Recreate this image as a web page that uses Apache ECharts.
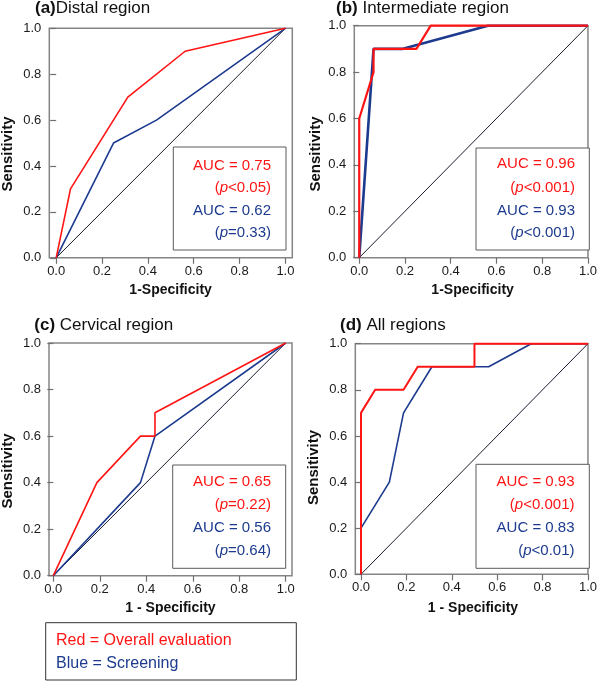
<!DOCTYPE html>
<html>
<head>
<meta charset="utf-8">
<script src="https://cdn.jsdelivr.net/npm/echarts@6/dist/echarts.min.js"></script>
<style>
html,body{margin:0;padding:0;background:#fff;}
#chart{width:600px;height:681px;}
</style>
</head>
<body>
<div id="chart"></div>
<script>
// ---- Data ----
const tickValues = [0, 0.2, 0.4, 0.6, 0.8, 1.0];
const tickLabels = ['0.0', '0.2', '0.4', '0.6', '0.8', '1.0'];

const panelTags = ['(a)', '(b)', '(c)', '(d)'];
const panelNames = ['Distal region', ' Intermediate region', ' Cervical region', ' All regions'];
const xTitles = ['1-Specificity', '1-Specificity', '1 - Specificity', '1 - Specificity'];

// Overall evaluation (red)
const distalOverallX = [0, 0.0625, 0.3125, 0.5625, 1];
const distalOverallY = [0, 0.3, 0.7, 0.9, 1];
const intermOverallX = [0, 0, 0.0625, 0.0625, 0.25, 0.3125, 1];
const intermOverallY = [0, 0.6, 0.8, 0.9, 0.9, 1, 1];
const cervOverallX = [0, 0.1875, 0.375, 0.4375, 0.4375, 1];
const cervOverallY = [0, 0.4, 0.6, 0.6, 0.7, 1];
const allOverallX = [0, 0, 0.0625, 0.1875, 0.25, 0.5, 0.5, 1];
const allOverallY = [0, 0.7, 0.8, 0.8, 0.9, 0.9, 1, 1];

// Screening (blue)
const distalScreenX = [0, 0.25, 0.4375, 1];
const distalScreenY = [0, 0.5, 0.6, 1];
const intermScreenX = [0, 0.0625, 0.1875, 0.5625, 1];
const intermScreenY = [0, 0.9, 0.9, 1, 1];
const cervScreenX = [0, 0.375, 0.4375, 1];
const cervScreenY = [0, 0.4, 0.6, 1];
const allScreenX = [0, 0, 0.125, 0.1875, 0.3125, 0.5625, 0.75, 1];
const allScreenY = [0, 0.2, 0.4, 0.7, 0.9, 0.9, 1, 1];

// Reference diagonal
const diagX = [0, 1];
const diagY = [0, 1];

// AUC annotations
const aucOverall = ['0.75', '0.96', '0.65', '0.93'];
const pOverall = ['<0.05', '<0.001', '=0.22', '<0.001'];
const aucScreen = ['0.62', '0.93', '0.56', '0.83'];
const pScreen = ['=0.33', '<0.001', '=0.64', '<0.01'];

const legendLines = ['Red = Overall evaluation', 'Blue = Screening'];

// ---- Layout / style ----
const RED = '#ff1414';
const BLUE = '#1c3a8e';
const FONT = '"Liberation Sans", Arial, sans-serif';

const overallX = [distalOverallX, intermOverallX, cervOverallX, allOverallX];
const overallY = [distalOverallY, intermOverallY, cervOverallY, allOverallY];
const screenX = [distalScreenX, intermScreenX, cervScreenX, allScreenX];
const screenY = [distalScreenY, intermScreenY, cervScreenY, allScreenY];

const grids = [
  {left: 49.3, top: 28.3, width: 243, height: 229.5, xmin: -0.03, xmax: 1.03},
  {left: 354.3, top: 25.7, width: 236.7, height: 232, xmin: -0.0216, xmax: 1.0},
  {left: 49, top: 343, width: 243, height: 232.7, xmin: -0.0185, xmax: 1.027},
  {left: 355.3, top: 343.7, width: 235.7, height: 230.6, xmin: -0.025, xmax: 1.0}
];
const lineW = [[1.6, 1.6], [2.2, 2.6], [1.6, 1.6], [2.0, 1.6]];
const titlePos = [[35, 0], [336, 0], [34.3, 316.5], [340, 316.5]];
const yTitlePos = [[8.3, 154], [315.8, 154], [8.3, 471], [314, 467.5]];
const xTitlePos = [[170.6, 290], [472.6, 290], [170.5, 608], [473, 608]];
const boxes = [
  {x: 173.3, y: 147, w: 112.7, h: 103, tx: 271, ly: [165.7, 188.3, 210.7, 233.3]},
  {x: 476, y: 148, w: 113.3, h: 102, tx: 575, ly: [164, 187.7, 210.7, 233.3]},
  {x: 172.7, y: 465, w: 113, h: 103.3, tx: 271, ly: [482.3, 505, 528.3, 550.7]},
  {x: 476, y: 464.3, w: 113.3, h: 104, tx: 574.5, ly: [482.3, 505, 528.3, 550.7]}
];

function pts(xs, ys) { return xs.map((x, i) => [x, ys[i]]); }
function fmt(v) {
  const i = tickValues.findIndex(t => Math.abs(t - v) < 1e-6);
  return i >= 0 ? tickLabels[i] : '';
}

const option = {
  animation: false,
  backgroundColor: '#fff',
  textStyle: {fontFamily: FONT},
  title: [],
  grid: [],
  xAxis: [],
  yAxis: [],
  series: [],
  graphic: []
};

grids.forEach((g, k) => {
  option.grid.push({
    left: g.left, top: g.top, width: g.width, height: g.height,
    show: true, borderColor: '#858585', borderWidth: 1.5, backgroundColor: 'transparent'
  });
  option.xAxis.push({
    type: 'value', gridIndex: k, min: g.xmin, max: g.xmax,
    axisLine: {show: false},
    splitLine: {show: false},
    axisTick: {show: true, length: 6, inside: false, customValues: tickValues,
      lineStyle: {color: '#707070', width: 1.2}},
    axisLabel: {customValues: tickValues, formatter: fmt, margin: 7,
      fontSize: 13, color: '#1a1a1a', fontFamily: FONT}
  });
  option.yAxis.push({
    type: 'value', gridIndex: k, min: 0, max: 1,
    axisLine: {show: false},
    splitLine: {show: false},
    axisTick: {show: true, length: 6, inside: false, customValues: tickValues,
      lineStyle: {color: '#707070', width: 1.2}},
    axisLabel: {customValues: tickValues, formatter: fmt, margin: 8,
      fontSize: 13, color: '#1a1a1a', fontFamily: FONT}
  });
  // diagonal
  option.series.push({
    type: 'line', xAxisIndex: k, yAxisIndex: k, data: pts(diagX, diagY),
    showSymbol: false, silent: true, clip: false,
    lineStyle: {color: '#1a1a2e', width: 1}
  });
  // screening (blue)
  option.series.push({
    type: 'line', xAxisIndex: k, yAxisIndex: k, data: pts(screenX[k], screenY[k]),
    showSymbol: false, clip: false,
    lineStyle: {color: BLUE, width: lineW[k][1]}
  });
  // overall (red)
  option.series.push({
    type: 'line', xAxisIndex: k, yAxisIndex: k, data: pts(overallX[k], overallY[k]),
    showSymbol: false, clip: false,
    lineStyle: {color: RED, width: lineW[k][0]}
  });

  option.title.push({
    text: '{b|' + panelTags[k] + '}{n|' + panelNames[k] + '}',
    left: titlePos[k][0], top: titlePos[k][1], padding: 0,
    textStyle: {
      rich: {
        b: {fontSize: 17, fontWeight: 'bold', color: '#111', fontFamily: FONT, lineHeight: 17},
        n: {fontSize: 17, fontWeight: 'normal', color: '#111', fontFamily: FONT, lineHeight: 17}
      }
    }
  });

  option.graphic.push({
    type: 'text', x: xTitlePos[k][0], y: xTitlePos[k][1],
    style: {text: xTitles[k], fontSize: 14, fontWeight: 'bold', fill: '#111',
      fontFamily: FONT, align: 'center', verticalAlign: 'middle'}
  });
  option.graphic.push({
    type: 'text', x: yTitlePos[k][0], y: yTitlePos[k][1], rotation: Math.PI / 2,
    style: {text: 'Sensitivity', fontSize: 15, fontWeight: 'bold', fill: '#111',
      fontFamily: FONT, align: 'center', verticalAlign: 'middle'}
  });

  const b = boxes[k];
  option.graphic.push({
    type: 'rect', shape: {x: b.x, y: b.y, width: b.w, height: b.h},
    style: {fill: '#fff', stroke: '#5a5a5a', lineWidth: 1}, z: 100
  });
  const rowTexts = [
    {t: '{n|AUC = ' + aucOverall[k] + '}', c: RED},
    {t: '{n|(}{i|p}{n|' + pOverall[k] + ')}', c: RED},
    {t: '{n|AUC = ' + aucScreen[k] + '}', c: BLUE},
    {t: '{n|(}{i|p}{n|' + pScreen[k] + ')}', c: BLUE}
  ];
  rowTexts.forEach((r, j) => {
    option.graphic.push({
      type: 'text', x: b.tx, y: b.ly[j], z: 101,
      style: {
        text: r.t, align: 'right', verticalAlign: 'middle',
        rich: {
          n: {fontSize: 15, fill: r.c, fontFamily: FONT},
          i: {fontSize: 15, fill: r.c, fontFamily: FONT, fontStyle: 'italic'}
        }
      }
    });
  });
});

// Bottom legend box
option.graphic.push({
  type: 'rect', shape: {x: 45.7, y: 622.7, width: 250.6, height: 57.3},
  style: {fill: '#fff', stroke: '#333', lineWidth: 1}
});
option.graphic.push({
  type: 'text', x: 56, y: 640.5,
  style: {text: legendLines[0], fontSize: 16, fill: RED, fontFamily: FONT, verticalAlign: 'middle'}
});
option.graphic.push({
  type: 'text', x: 56, y: 663.5,
  style: {text: legendLines[1], fontSize: 16, fill: BLUE, fontFamily: FONT, verticalAlign: 'middle'}
});

const chart = echarts.init(document.getElementById('chart'), null, {renderer: 'canvas'});
chart.setOption(option);
</script>
</body>
</html>
